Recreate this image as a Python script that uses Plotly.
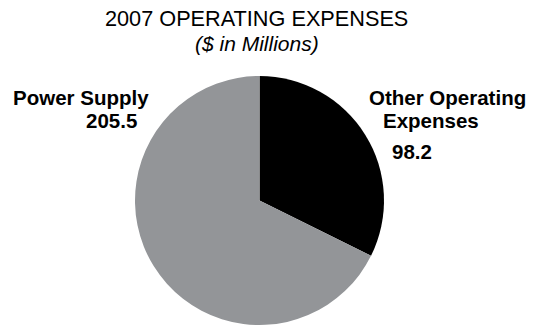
import plotly.graph_objects as go

categories = ["Other Operating Expenses", "Power Supply"]
values = [98.2, 205.5]
colors = ["#000000", "#939598"]
title_text = "2007 OPERATING EXPENSES"
subtitle_text = "($ in Millions)"

W, H = 546, 327
FONT = "Liberation Sans"
ASC, DESC = 0.905, 0.212
LBL = 20.5

fig = go.Figure(go.Pie(
    labels=categories,
    values=values,
    marker=dict(colors=colors, line=dict(width=0)),
    sort=False,
    direction="clockwise",
    rotation=0,
    textinfo="none",
    hoverinfo="label+value",
    showlegend=False,
    domain=dict(x=[135 / W, 384 / W], y=[1 - 325 / H, 1 - 76 / H]),
))


def ann(text, x, baseline, size, xanchor="center"):
    # place by baseline: box middle = baseline - ASC*size + (ASC+DESC)*size/2
    ymid = baseline - ASC * size + (ASC + DESC) * size / 2
    return dict(text=text, x=x / W, y=1 - ymid / H, xref="paper", yref="paper",
                showarrow=False, font=dict(family=FONT, size=size, color="#000"),
                xanchor=xanchor, yanchor="middle", borderpad=0)


oo_words = categories[0].rsplit(" ", 1)

annotations = [
    ann(title_text, 256.5, 26.5, 21.7),
    ann("<i>" + subtitle_text + "</i>", 257, 50.5, 21),
    # Power Supply
    ann("<b>%s</b>" % categories[1], 150, 104.5, LBL, "right"),
    ann("<b>%.1f</b>" % values[1], 138, 127.5, LBL, "right"),
    # Other Operating Expenses
    ann("<b>%s</b>" % oo_words[0], 368, 104.5, LBL, "left"),
    ann("<b>%s</b>" % oo_words[1], 382, 127.5, LBL, "left"),
    ann("<b>%.1f</b>" % values[0], 391, 159, LBL, "left"),
]

fig.update_layout(
    width=W, height=H,
    margin=dict(l=0, r=0, t=0, b=0),
    paper_bgcolor="white",
    plot_bgcolor="white",
    annotations=annotations,
)

fig.write_html("out.html")
